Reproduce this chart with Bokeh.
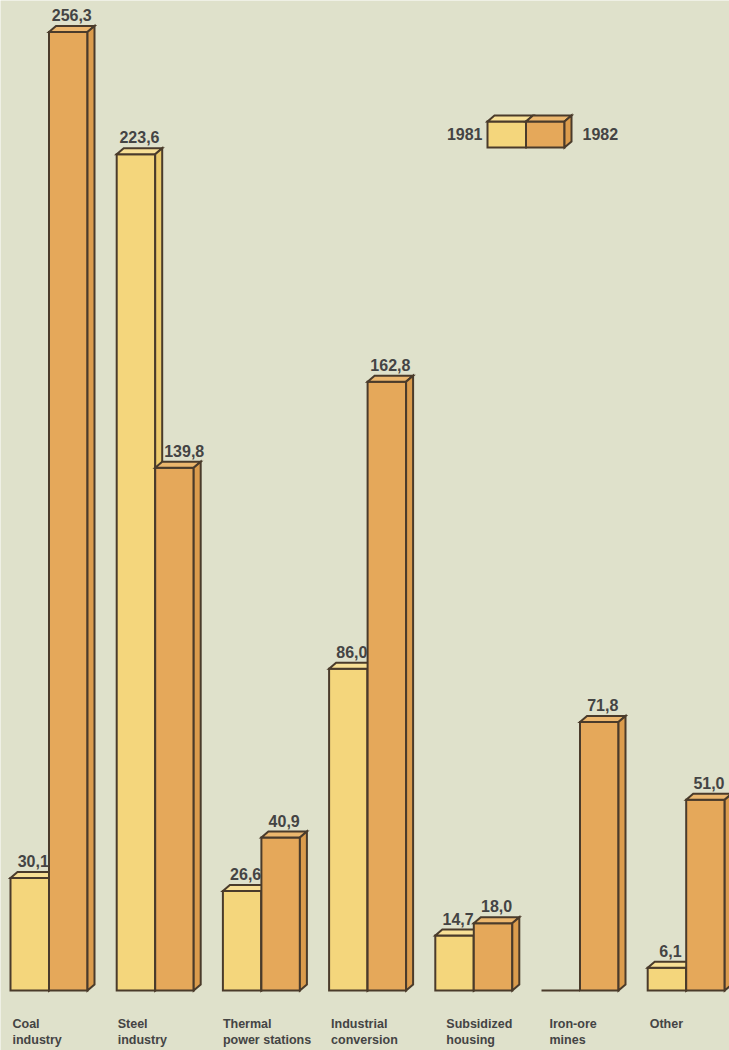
from bokeh.plotting import figure
from bokeh.models import Range1d, ColumnDataSource
from bokeh.core.properties import value
from bokeh.embed import file_html
from bokeh.resources import INLINE

# ---- data -------------------------------------------------------------
label_line1 = ["Coal", "Steel", "Thermal", "Industrial", "Subsidized", "Iron-ore", "Other"]
label_line2 = ["industry", "industry", "power stations", "conversion", "housing", "mines", ""]
years = ["1981", "1982"]
values_1981 = [30.1, 223.6, 26.6, 86.0, 14.7, 0.0, 6.1]
values_1982 = [256.3, 139.8, 40.9, 162.8, 18.0, 71.8, 51.0]

# ---- layout / style ---------------------------------------------------
W, H = 729, 1050
SLOT_PX = 106.2      # distance between groups
LEFT_PX = 10         # left margin before first bar
BASE_PX = 990        # baseline position from top of canvas
UNIT_PX = 3.74       # pixels per value unit
BAR_PX = 38.5        # front-face width of one bar
DEPTH_X_PX, DEPTH_Y_PX = 7, 6   # oblique depth of the 3-D boxes
LABEL_NUDGE_PX = [2, 1, 0, 2, 11, 8, 2]

BG = "#dfe1cb"
EDGE = "#4a3b2b"
TEXT = "#444444"
FONT = value("Liberation Sans")
FACE = {
    "1981": {"front": "#f4d67c", "top": "#f8e096", "side": "#eccb6c"},
    "1982": {"front": "#e5a85a", "top": "#ecb76e", "side": "#db9c4d"},
}

bw = BAR_PX / SLOT_PX
ddx = DEPTH_X_PX / SLOT_PX
ddy = DEPTH_Y_PX / UNIT_PX

p = figure(
    width=W, height=H,
    x_range=Range1d(-LEFT_PX / SLOT_PX, (W - LEFT_PX) / SLOT_PX),
    y_range=Range1d(-(H - BASE_PX) / UNIT_PX, BASE_PX / UNIT_PX),
    x_axis_type=None, y_axis_type=None,
    output_backend="svg", toolbar_location=None,
    min_border=0, outline_line_color=None,
    background_fill_color=BG, border_fill_color=BG,
)
p.grid.visible = False


def box_faces(x0, v, w):
    front = ([x0, x0 + w, x0 + w, x0], [0, 0, v, v])
    top = ([x0, x0 + w, x0 + w + ddx, x0 + ddx], [v, v, v + ddy, v + ddy])
    side = ([x0 + w, x0 + w + ddx, x0 + w + ddx, x0 + w], [0, ddy, v + ddy, v])
    return front, top, side


def draw_series(vals, offset, year):
    faces = {"front": ([], []), "top": ([], []), "side": ([], [])}
    for i, v in enumerate(vals):
        front, top, side = box_faces(i + offset, v, bw)
        faces["front"][0].append(front[0]); faces["front"][1].append(front[1])
        if v > 0:
            faces["top"][0].append(top[0]); faces["top"][1].append(top[1])
            faces["side"][0].append(side[0]); faces["side"][1].append(side[1])
    for name in ("front", "top", "side"):
        xs, ys = faces[name]
        p.patches(xs=xs, ys=ys, fill_color=FACE[year][name], line_color=EDGE,
                  line_width=2, line_join="miter")


draw_series(values_1981, 0.0, "1981")
draw_series(values_1982, bw, "1982")

# ---- value labels -----------------------------------------------------
lx, ly, lt, lal, lxo = [], [], [], [], []
for i, (a, b) in enumerate(zip(values_1981, values_1982)):
    if a > 0:
        lx.append(i + bw / 2 + ddx / 2); ly.append(a + ddy)
        lt.append(f"{a:.1f}".replace(".", ",")); lal.append("center"); lxo.append(0)
    if b < a:
        # the taller neighbour would hide a centred label: start it after the neighbour
        lx.append(i + bw + ddx); ly.append(b + ddy)
        lt.append(f"{b:.1f}".replace(".", ",")); lal.append("left"); lxo.append(2)
    else:
        lx.append(i + bw + bw / 2 + ddx / 2); ly.append(b + ddy)
        lt.append(f"{b:.1f}".replace(".", ",")); lal.append("center"); lxo.append(0)

p.text(x="x", y="y", text="t", text_align="al", x_offset="xo",
       source=ColumnDataSource(dict(x=lx, y=ly, t=lt, al=lal, xo=lxo)),
       y_offset=-11, text_baseline="alphabetic", text_font=FONT,
       text_font_style="bold", text_font_size="16px", text_color=TEXT)

# ---- category labels --------------------------------------------------
cat_x = [i + n / SLOT_PX for i, n in enumerate(LABEL_NUDGE_PX)]
cat_src = ColumnDataSource(dict(x=cat_x, y=[0] * len(cat_x), l1=label_line1, l2=label_line2))
for col, off in (("l1", 33.5), ("l2", 49.5)):
    p.text(x="x", y="y", text=col, source=cat_src, y_offset=off,
           text_align="left", text_baseline="alphabetic", text_font=FONT,
           text_font_style="bold", text_font_size="12.5px", text_color=TEXT)

# ---- legend -----------------------------------------------------------
LEG_X = (487 - LEFT_PX) / SLOT_PX
LEG_Y = (BASE_PX - 147) / UNIT_PX
LEG_H = 26 / UNIT_PX
for k, year in enumerate(years):
    front, top, side = box_faces(LEG_X + k * bw, LEG_H, bw)
    front = (front[0], [LEG_Y + y for y in front[1]])
    top = (top[0], [LEG_Y + y for y in top[1]])
    side = (side[0], [LEG_Y + y for y in side[1]])
    faces = [("front", front), ("top", top)] + ([("side", side)] if k == 1 else [])
    for name, (xs, ys) in faces:
        p.patch(x=xs, y=ys, fill_color=FACE[year][name], line_color=EDGE,
                line_width=2, line_join="miter")

p.text(x=[LEG_X, LEG_X + 2 * bw + ddx], y=[LEG_Y, LEG_Y], text=years,
       x_offset=[-5, 11], y_offset=-14, text_align=["right", "left"],
       text_baseline="alphabetic", text_font=FONT, text_font_style="bold",
       text_font_size="16px", text_color=TEXT)

open("out.html", "w").write(file_html(p, INLINE))
